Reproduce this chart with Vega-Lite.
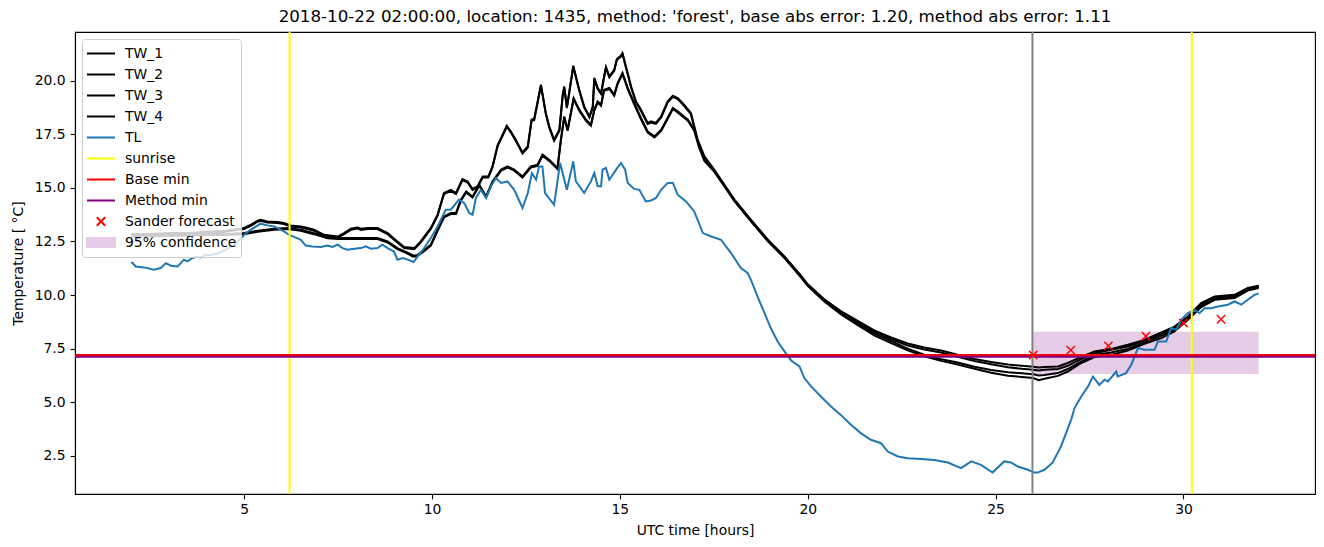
{
  "$schema": "https://vega.github.io/schema/vega-lite/v6.json",
  "autosize": {"type": "none"},
  "width": 1240,
  "height": 462,
  "padding": {"left": 75, "top": 32, "right": 9, "bottom": 53},
  "background": "white",
  "title": {
    "text": "2018-10-22 02:00:00, location: 1435, method: 'forest', base abs error: 1.20, method abs error: 1.11",
    "font": "DejaVu Sans", "fontSize": 16.7, "fontWeight": "normal", "color": "black",
    "anchor": "middle", "offset": 5
  },
  "datasets": {
    "upper": [
      {"t":2.0,"TW_1":12.85,"TW_2":12.8},{"t":2.5,"TW_1":12.85,"TW_2":12.8},{"t":3.0,"TW_1":12.9,"TW_2":12.85},{"t":3.5,"TW_1":12.9,"TW_2":12.85},
      {"t":4.0,"TW_1":12.95,"TW_2":12.9},{"t":4.5,"TW_1":13.0,"TW_2":12.95},{"t":5.0,"TW_1":13.13,"TW_2":13.08},{"t":5.2,"TW_1":13.3,"TW_2":13.25},
      {"t":5.36,"TW_1":13.47,"TW_2":13.42},{"t":5.44,"TW_1":13.51,"TW_2":13.46},{"t":5.62,"TW_1":13.43,"TW_2":13.38},{"t":5.89,"TW_1":13.41,"TW_2":13.36},
      {"t":6.06,"TW_1":13.36,"TW_2":13.31},{"t":6.24,"TW_1":13.25,"TW_2":13.2},{"t":6.51,"TW_1":13.2,"TW_2":13.15},{"t":6.69,"TW_1":13.13,"TW_2":13.08},
      {"t":6.86,"TW_1":13.05,"TW_2":13.0},{"t":7.13,"TW_1":12.81,"TW_2":12.76},{"t":7.49,"TW_1":12.73,"TW_2":12.68},{"t":7.66,"TW_1":12.89,"TW_2":12.84},
      {"t":7.84,"TW_1":13.09,"TW_2":13.04},{"t":8.02,"TW_1":13.15,"TW_2":13.1},{"t":8.11,"TW_1":13.09,"TW_2":13.04},{"t":8.29,"TW_1":13.13,"TW_2":13.08},
      {"t":8.55,"TW_1":13.13,"TW_2":13.08},{"t":8.82,"TW_1":12.89,"TW_2":12.84},{"t":9.08,"TW_1":12.5,"TW_2":12.45},{"t":9.26,"TW_1":12.24,"TW_2":12.19},
      {"t":9.53,"TW_1":12.19,"TW_2":12.14},{"t":9.7,"TW_1":12.5,"TW_2":12.45},{"t":9.97,"TW_1":13.13,"TW_2":13.08},{"t":10.15,"TW_1":13.75,"TW_2":13.7},
      {"t":10.32,"TW_1":14.76,"TW_2":14.71},{"t":10.5,"TW_1":14.91,"TW_2":14.86},{"t":10.64,"TW_1":14.76,"TW_2":14.71},{"t":10.81,"TW_1":15.41,"TW_2":15.36},
      {"t":10.95,"TW_1":15.3,"TW_2":15.25},{"t":11.08,"TW_1":14.95,"TW_2":14.9},{"t":11.21,"TW_1":15.07,"TW_2":15.02},{"t":11.35,"TW_1":15.53,"TW_2":15.48},
      {"t":11.5,"TW_1":15.53,"TW_2":15.48},{"t":11.61,"TW_1":16.0,"TW_2":15.95},{"t":11.75,"TW_1":17.01,"TW_2":16.96},{"t":11.88,"TW_1":17.48,"TW_2":17.43},
      {"t":11.99,"TW_1":17.9,"TW_2":17.85},{"t":12.1,"TW_1":17.63,"TW_2":17.58},{"t":12.23,"TW_1":17.25,"TW_2":17.2},{"t":12.41,"TW_1":16.65,"TW_2":16.6},
      {"t":12.55,"TW_1":16.93,"TW_2":16.88},{"t":12.65,"TW_1":18.18,"TW_2":18.13},{"t":12.72,"TW_1":18.21,"TW_2":18.16},{"t":12.9,"TW_1":19.81,"TW_2":19.76},
      {"t":13.03,"TW_1":18.49,"TW_2":18.44},{"t":13.12,"TW_1":17.87,"TW_2":17.82},{"t":13.25,"TW_1":17.25,"TW_2":17.2},{"t":13.39,"TW_1":17.71,"TW_2":17.66},
      {"t":13.48,"TW_1":19.35,"TW_2":19.3},{"t":13.52,"TW_1":19.73,"TW_2":19.68},{"t":13.59,"TW_1":18.77,"TW_2":18.72},{"t":13.65,"TW_1":19.43,"TW_2":19.38},
      {"t":13.76,"TW_1":20.7,"TW_2":20.65},{"t":13.92,"TW_1":19.58,"TW_2":19.53},{"t":14.05,"TW_1":18.8,"TW_2":18.75},{"t":14.19,"TW_1":18.33,"TW_2":18.28},
      {"t":14.28,"TW_1":18.8,"TW_2":18.75},{"t":14.32,"TW_1":20.13,"TW_2":20.08},{"t":14.41,"TW_1":19.66,"TW_2":19.61},{"t":14.5,"TW_1":19.43,"TW_2":19.38},
      {"t":14.58,"TW_1":20.2,"TW_2":20.15},{"t":14.63,"TW_1":20.64,"TW_2":20.59},{"t":14.72,"TW_1":20.2,"TW_2":20.15},{"t":14.85,"TW_1":20.51,"TW_2":20.46},
      {"t":14.92,"TW_1":21.01,"TW_2":20.96},{"t":15.03,"TW_1":21.17,"TW_2":21.12},{"t":15.07,"TW_1":21.29,"TW_2":21.24},{"t":15.16,"TW_1":20.67,"TW_2":20.62},
      {"t":15.3,"TW_1":19.73,"TW_2":19.68},{"t":15.43,"TW_1":19.03,"TW_2":18.98},{"t":15.56,"TW_1":18.65,"TW_2":18.6},{"t":15.74,"TW_1":18.03,"TW_2":17.98},
      {"t":15.83,"TW_1":18.1,"TW_2":18.05},{"t":15.96,"TW_1":18.03,"TW_2":17.98},{"t":16.1,"TW_1":18.33,"TW_2":18.28},{"t":16.27,"TW_1":19.03,"TW_2":18.98},
      {"t":16.41,"TW_1":19.3,"TW_2":19.25},{"t":16.54,"TW_1":19.19,"TW_2":19.14},{"t":16.71,"TW_1":18.88,"TW_2":18.83},{"t":16.89,"TW_1":18.49,"TW_2":18.44},
      {"t":17.07,"TW_1":17.25,"TW_2":17.2},{"t":17.25,"TW_1":16.47,"TW_2":16.42},{"t":17.51,"TW_1":15.85,"TW_2":15.8},{"t":17.78,"TW_1":15.15,"TW_2":15.1},
      {"t":18.05,"TW_1":14.45,"TW_2":14.4},{"t":18.49,"TW_1":13.51,"TW_2":13.46},{"t":18.94,"TW_1":12.58,"TW_2":12.53},{"t":19.38,"TW_1":11.8,"TW_2":11.75},
      {"t":19.82,"TW_1":10.9,"TW_2":10.85},{"t":20.0,"TW_1":10.5,"TW_2":10.45},{"t":20.44,"TW_1":9.8,"TW_2":9.75},{"t":20.88,"TW_1":9.25,"TW_2":9.2},
      {"t":21.33,"TW_1":8.8,"TW_2":8.74},{"t":21.77,"TW_1":8.35,"TW_2":8.28},{"t":22.22,"TW_1":8.02,"TW_2":7.94},{"t":22.66,"TW_1":7.74,"TW_2":7.65},
      {"t":23.1,"TW_1":7.55,"TW_2":7.46},{"t":23.55,"TW_1":7.41,"TW_2":7.32},{"t":23.99,"TW_1":7.22,"TW_2":7.12},{"t":24.44,"TW_1":7.02,"TW_2":6.92},
      {"t":24.88,"TW_1":6.88,"TW_2":6.77},{"t":25.33,"TW_1":6.76,"TW_2":6.63},{"t":25.7,"TW_1":6.7,"TW_2":6.56},{"t":26.0,"TW_1":6.66,"TW_2":6.52},
      {"t":26.15,"TW_1":6.62,"TW_2":6.48},{"t":26.3,"TW_1":6.64,"TW_2":6.51},{"t":26.66,"TW_1":6.67,"TW_2":6.55},{"t":26.92,"TW_1":6.83,"TW_2":6.7},
      {"t":27.28,"TW_1":7.11,"TW_2":7.01},{"t":27.63,"TW_1":7.37,"TW_2":7.29},{"t":28.08,"TW_1":7.49,"TW_2":7.45},{"t":28.52,"TW_1":7.68,"TW_2":7.6},
      {"t":28.96,"TW_1":7.91,"TW_2":7.87},{"t":29.41,"TW_1":8.26,"TW_2":8.19},{"t":29.76,"TW_1":8.53,"TW_2":8.46},{"t":30.12,"TW_1":9.0,"TW_2":8.95},
      {"t":30.47,"TW_1":9.63,"TW_2":9.55},{"t":30.83,"TW_1":9.93,"TW_2":9.89},{"t":31.36,"TW_1":10.01,"TW_2":9.97},{"t":31.71,"TW_1":10.33,"TW_2":10.28},
      {"t":32.0,"TW_1":10.43,"TW_2":10.4}
    ],
    "lower": [
      {"t":2.0,"TW_3":12.8,"TW_4":12.75},{"t":3.0,"TW_3":12.8,"TW_4":12.75},{"t":4.0,"TW_3":12.85,"TW_4":12.8},{"t":4.5,"TW_3":12.85,"TW_4":12.8},
      {"t":5.0,"TW_3":12.89,"TW_4":12.84},{"t":5.36,"TW_3":13.0,"TW_4":12.95},{"t":5.8,"TW_3":13.09,"TW_4":13.04},{"t":6.15,"TW_3":13.13,"TW_4":13.08},
      {"t":6.51,"TW_3":13.05,"TW_4":13.0},{"t":6.86,"TW_3":12.89,"TW_4":12.84},{"t":7.22,"TW_3":12.7,"TW_4":12.65},{"t":7.5,"TW_3":12.66,"TW_4":12.61},
      {"t":7.84,"TW_3":12.66,"TW_4":12.61},{"t":8.2,"TW_3":12.66,"TW_4":12.61},{"t":8.55,"TW_3":12.66,"TW_4":12.61},{"t":8.82,"TW_3":12.5,"TW_4":12.45},
      {"t":9.08,"TW_3":12.19,"TW_4":12.14},{"t":9.35,"TW_3":11.98,"TW_4":11.93},{"t":9.49,"TW_3":11.85,"TW_4":11.8},{"t":9.6,"TW_3":11.85,"TW_4":11.8},
      {"t":9.79,"TW_3":12.1,"TW_4":12.05},{"t":9.97,"TW_3":12.35,"TW_4":12.3},{"t":10.15,"TW_3":13.05,"TW_4":13.0},{"t":10.32,"TW_3":13.67,"TW_4":13.62},
      {"t":10.5,"TW_3":13.83,"TW_4":13.78},{"t":10.64,"TW_3":13.83,"TW_4":13.78},{"t":10.77,"TW_3":14.45,"TW_4":14.4},{"t":10.91,"TW_3":14.83,"TW_4":14.78},
      {"t":11.08,"TW_3":14.6,"TW_4":14.55},{"t":11.26,"TW_3":15.15,"TW_4":15.1},{"t":11.44,"TW_3":14.6,"TW_4":14.55},{"t":11.61,"TW_3":15.3,"TW_4":15.25},
      {"t":11.84,"TW_3":15.85,"TW_4":15.8},{"t":12.01,"TW_3":16.0,"TW_4":15.95},{"t":12.19,"TW_3":15.85,"TW_4":15.8},{"t":12.41,"TW_3":15.53,"TW_4":15.48},
      {"t":12.63,"TW_3":16.0,"TW_4":15.95},{"t":12.81,"TW_3":16.08,"TW_4":16.03},{"t":12.94,"TW_3":16.55,"TW_4":16.5},{"t":13.12,"TW_3":16.31,"TW_4":16.26},
      {"t":13.34,"TW_3":15.93,"TW_4":15.88},{"t":13.43,"TW_3":17.25,"TW_4":17.2},{"t":13.52,"TW_3":18.33,"TW_4":18.28},{"t":13.61,"TW_3":17.71,"TW_4":17.66},
      {"t":13.77,"TW_3":19.19,"TW_4":19.14},{"t":13.92,"TW_3":18.65,"TW_4":18.6},{"t":14.1,"TW_3":18.18,"TW_4":18.13},{"t":14.23,"TW_3":17.95,"TW_4":17.9},
      {"t":14.32,"TW_3":18.65,"TW_4":18.6},{"t":14.41,"TW_3":19.03,"TW_4":18.98},{"t":14.5,"TW_3":18.88,"TW_4":18.83},{"t":14.58,"TW_3":19.58,"TW_4":19.53},
      {"t":14.72,"TW_3":19.66,"TW_4":19.61},{"t":14.85,"TW_3":19.35,"TW_4":19.3},{"t":14.94,"TW_3":19.89,"TW_4":19.84},{"t":15.07,"TW_3":20.36,"TW_4":20.31},
      {"t":15.21,"TW_3":19.66,"TW_4":19.61},{"t":15.38,"TW_3":18.96,"TW_4":18.91},{"t":15.56,"TW_3":18.26,"TW_4":18.21},{"t":15.74,"TW_3":17.63,"TW_4":17.58},
      {"t":15.92,"TW_3":17.4,"TW_4":17.35},{"t":16.1,"TW_3":17.71,"TW_4":17.66},{"t":16.27,"TW_3":18.26,"TW_4":18.21},{"t":16.41,"TW_3":18.73,"TW_4":18.68},
      {"t":16.54,"TW_3":18.57,"TW_4":18.52},{"t":16.81,"TW_3":18.18,"TW_4":18.13},{"t":16.98,"TW_3":17.71,"TW_4":17.66},{"t":17.11,"TW_3":16.93,"TW_4":16.88},
      {"t":17.25,"TW_3":16.31,"TW_4":16.26},{"t":17.51,"TW_3":15.8,"TW_4":15.76},{"t":17.78,"TW_3":15.12,"TW_4":15.08},{"t":18.05,"TW_3":14.42,"TW_4":14.38},
      {"t":18.49,"TW_3":13.48,"TW_4":13.44},{"t":18.94,"TW_3":12.55,"TW_4":12.51},{"t":19.38,"TW_3":11.78,"TW_4":11.73},{"t":19.82,"TW_3":10.88,"TW_4":10.83},
      {"t":20.0,"TW_3":10.48,"TW_4":10.43},{"t":20.44,"TW_3":9.75,"TW_4":9.7},{"t":20.88,"TW_3":9.17,"TW_4":9.11},{"t":21.33,"TW_3":8.66,"TW_4":8.6},
      {"t":21.77,"TW_3":8.2,"TW_4":8.12},{"t":22.22,"TW_3":7.85,"TW_4":7.76},{"t":22.66,"TW_3":7.5,"TW_4":7.42},{"t":23.1,"TW_3":7.22,"TW_4":7.14},
      {"t":23.55,"TW_3":7.01,"TW_4":6.93},{"t":23.99,"TW_3":6.85,"TW_4":6.76},{"t":24.44,"TW_3":6.66,"TW_4":6.56},{"t":24.88,"TW_3":6.5,"TW_4":6.38},
      {"t":25.33,"TW_3":6.4,"TW_4":6.24},{"t":25.7,"TW_3":6.35,"TW_4":6.18},{"t":26.0,"TW_3":6.31,"TW_4":6.13},{"t":26.15,"TW_3":6.25,"TW_4":6.03},
      {"t":26.3,"TW_3":6.27,"TW_4":6.1},{"t":26.66,"TW_3":6.36,"TW_4":6.23},{"t":26.92,"TW_3":6.55,"TW_4":6.43},{"t":27.28,"TW_3":6.9,"TW_4":6.83},
      {"t":27.63,"TW_3":7.21,"TW_4":7.11},{"t":28.08,"TW_3":7.32,"TW_4":7.21},{"t":28.52,"TW_3":7.49,"TW_4":7.41},{"t":28.96,"TW_3":7.79,"TW_4":7.73},
      {"t":29.41,"TW_3":8.1,"TW_4":7.99},{"t":29.76,"TW_3":8.38,"TW_4":8.3},{"t":30.12,"TW_3":8.89,"TW_4":8.85},{"t":30.47,"TW_3":9.47,"TW_4":9.44},
      {"t":30.83,"TW_3":9.83,"TW_4":9.78},{"t":31.36,"TW_3":9.91,"TW_4":9.86},{"t":31.71,"TW_3":10.25,"TW_4":10.21},{"t":32.0,"TW_3":10.37,"TW_4":10.33}
    ],
    "tl": [
      {"t":2.0,"TL":11.54},{"t":2.12,"TL":11.33},{"t":2.34,"TL":11.29},{"t":2.6,"TL":11.18},{"t":2.78,"TL":11.26},{"t":2.92,"TL":11.49},{"t":3.05,"TL":11.37},
      {"t":3.23,"TL":11.33},{"t":3.4,"TL":11.65},{"t":3.49,"TL":11.57},{"t":3.63,"TL":11.73},{"t":3.76,"TL":11.8},{"t":3.85,"TL":11.75},{"t":3.98,"TL":11.88},
      {"t":4.07,"TL":11.85},{"t":4.2,"TL":11.91},{"t":4.29,"TL":11.93},{"t":4.51,"TL":12.11},{"t":4.78,"TL":12.39},{"t":5.0,"TL":12.81},{"t":5.18,"TL":13.05},
      {"t":5.44,"TL":13.33},{"t":5.62,"TL":13.25},{"t":5.8,"TL":13.2},{"t":5.93,"TL":13.09},{"t":6.06,"TL":12.97},{"t":6.2,"TL":12.81},{"t":6.33,"TL":12.71},
      {"t":6.51,"TL":12.58},{"t":6.64,"TL":12.31},{"t":6.82,"TL":12.27},{"t":7.04,"TL":12.24},{"t":7.22,"TL":12.31},{"t":7.35,"TL":12.24},{"t":7.49,"TL":12.35},
      {"t":7.62,"TL":12.19},{"t":7.75,"TL":12.11},{"t":7.93,"TL":12.16},{"t":8.11,"TL":12.19},{"t":8.24,"TL":12.27},{"t":8.37,"TL":12.16},{"t":8.55,"TL":12.19},
      {"t":8.68,"TL":12.35},{"t":8.82,"TL":12.19},{"t":8.99,"TL":12.03},{"t":9.08,"TL":11.65},{"t":9.22,"TL":11.73},{"t":9.35,"TL":11.65},{"t":9.51,"TL":11.54},
      {"t":9.62,"TL":11.8},{"t":9.79,"TL":12.19},{"t":9.97,"TL":12.66},{"t":10.15,"TL":13.2},{"t":10.28,"TL":13.67},{"t":10.37,"TL":13.98},{"t":10.5,"TL":13.98},
      {"t":10.72,"TL":14.45},{"t":10.86,"TL":14.29},{"t":10.99,"TL":13.83},{"t":11.08,"TL":13.75},{"t":11.17,"TL":14.53},{"t":11.3,"TL":14.91},{"t":11.44,"TL":14.53},
      {"t":11.57,"TL":15.07},{"t":11.7,"TL":15.46},{"t":11.84,"TL":15.23},{"t":12.01,"TL":15.3},{"t":12.19,"TL":14.91},{"t":12.41,"TL":14.06},{"t":12.55,"TL":14.76},
      {"t":12.66,"TL":15.69},{"t":12.77,"TL":15.38},{"t":12.85,"TL":16.0},{"t":12.94,"TL":16.0},{"t":13.01,"TL":14.76},{"t":13.25,"TL":14.21},{"t":13.41,"TL":16.16},
      {"t":13.59,"TL":14.91},{"t":13.76,"TL":16.23},{"t":13.83,"TL":15.3},{"t":14.05,"TL":14.76},{"t":14.23,"TL":15.3},{"t":14.32,"TL":15.69},{"t":14.41,"TL":15.07},
      {"t":14.5,"TL":15.07},{"t":14.54,"TL":15.85},{"t":14.63,"TL":15.93},{"t":14.72,"TL":15.38},{"t":14.9,"TL":15.85},{"t":15.03,"TL":16.16},{"t":15.14,"TL":15.85},
      {"t":15.21,"TL":15.23},{"t":15.38,"TL":14.95},{"t":15.52,"TL":14.91},{"t":15.69,"TL":14.37},{"t":15.83,"TL":14.41},{"t":15.96,"TL":14.53},{"t":16.1,"TL":14.91},
      {"t":16.27,"TL":15.23},{"t":16.41,"TL":15.23},{"t":16.54,"TL":14.68},{"t":16.76,"TL":14.37},{"t":16.98,"TL":13.9},{"t":17.21,"TL":12.89},{"t":17.43,"TL":12.73},
      {"t":17.69,"TL":12.58},{"t":17.96,"TL":11.96},{"t":18.22,"TL":11.26},{"t":18.4,"TL":11.03},{"t":18.49,"TL":10.71},{"t":18.67,"TL":9.9},{"t":18.84,"TL":9.2},
      {"t":19.02,"TL":8.45},{"t":19.2,"TL":7.83},{"t":19.38,"TL":7.37},{"t":19.56,"TL":6.95},{"t":19.78,"TL":6.67},{"t":19.91,"TL":6.13},{"t":20.09,"TL":5.74},
      {"t":20.35,"TL":5.27},{"t":20.62,"TL":4.8},{"t":20.88,"TL":4.41},{"t":21.15,"TL":3.95},{"t":21.41,"TL":3.56},{"t":21.68,"TL":3.25},{"t":21.95,"TL":3.09},
      {"t":22.13,"TL":2.7},{"t":22.4,"TL":2.47},{"t":22.66,"TL":2.39},{"t":23.02,"TL":2.35},{"t":23.37,"TL":2.31},{"t":23.73,"TL":2.19},{"t":24.08,"TL":1.93},
      {"t":24.35,"TL":2.24},{"t":24.61,"TL":2.08},{"t":24.92,"TL":1.72},{"t":25.23,"TL":2.24},{"t":25.41,"TL":2.19},{"t":25.59,"TL":2.0},{"t":25.86,"TL":1.85},
      {"t":26.03,"TL":1.72},{"t":26.12,"TL":1.72},{"t":26.3,"TL":1.85},{"t":26.52,"TL":2.19},{"t":26.74,"TL":2.94},{"t":27.01,"TL":4.18},{"t":27.1,"TL":4.73},
      {"t":27.28,"TL":5.27},{"t":27.46,"TL":5.74},{"t":27.59,"TL":6.2},{"t":27.76,"TL":5.81},{"t":27.9,"TL":6.05},{"t":27.99,"TL":5.97},{"t":28.21,"TL":6.43},
      {"t":28.25,"TL":6.2},{"t":28.47,"TL":6.36},{"t":28.61,"TL":6.75},{"t":28.79,"TL":7.53},{"t":28.96,"TL":7.45},{"t":29.23,"TL":7.45},{"t":29.32,"TL":7.83},
      {"t":29.54,"TL":7.83},{"t":29.67,"TL":8.46},{"t":29.81,"TL":8.38},{"t":29.94,"TL":8.85},{"t":30.12,"TL":9.16},{"t":30.29,"TL":9.31},{"t":30.43,"TL":9.16},
      {"t":30.56,"TL":9.39},{"t":30.74,"TL":9.39},{"t":30.92,"TL":9.47},{"t":31.18,"TL":9.55},{"t":31.36,"TL":9.7},{"t":31.54,"TL":9.55},{"t":31.71,"TL":9.78},
      {"t":31.89,"TL":10.01},{"t":32.0,"TL":10.08}
    ],
    "sander": [
      {"t":26,"Sander forecast":7.2},{"t":27,"Sander forecast":7.43},{"t":28,"Sander forecast":7.63},
      {"t":29,"Sander forecast":8.08},{"t":30,"Sander forecast":8.7},{"t":31,"Sander forecast":8.87}
    ]
  },
  "layer": [
    {
      "data": {"values": [{"series": "95% confidence", "t": 26, "t2": 32, "v": 6.32, "v2": 8.29}]},
      "mark": {"type": "rect"},
      "encoding": {
        "x": {"field": "t", "type": "quantitative", "scale": {"domain": [0.5, 33.5], "nice": false, "zero": false}},
        "x2": {"field": "t2"},
        "y": {"field": "v", "type": "quantitative", "scale": {"domain": [0.72, 22.27], "nice": false, "zero": false}},
        "y2": {"field": "v2"},
        "color": {"field": "series", "type": "nominal"}
      }
    },
    {
      "data": {"name": "upper"},
      "transform": [{"fold": ["TW_1", "TW_2"], "as": ["series", "v"]}],
      "mark": {"type": "line", "strokeWidth": 2},
      "encoding": {
        "x": {"field": "t", "type": "quantitative", "scale": {"domain": [0.5, 33.5], "nice": false, "zero": false},
          "axis": {"values": [5, 10, 15, 20, 25, 30], "format": "d", "title": "UTC time [hours]"}},
        "y": {"field": "v", "type": "quantitative", "scale": {"domain": [0.72, 22.27], "nice": false, "zero": false},
          "axis": {"values": [2.5, 5, 7.5, 10, 12.5, 15, 17.5, 20], "format": ".1f", "title": "Temperature [ °C]"}},
        "color": {
          "field": "series", "type": "nominal",
          "scale": {
            "domain": ["TW_1", "TW_2", "TW_3", "TW_4", "TL", "sunrise", "Base min", "Method min", "Sander forecast", "95% confidence"],
            "range": ["#000000", "#000000", "#000000", "#000000", "#1f77b4", "#ffff00", "#ff0000", "#800080", "#ff0000", "#e6cce6"]
          },
          "legend": {
            "title": null,
            "orient": "none",
            "legendX": 7,
            "legendY": 7,
            "direction": "vertical",
            "symbolType": "stroke",
            "symbolSize": 784,
            "symbolStrokeWidth": 2,
            "labelFont": "DejaVu Sans",
            "labelFontSize": 13.9,
            "labelColor": "black",
            "labelOffset": 9,
            "labelLimit": 300,
            "padding": 4,
            "rowPadding": 0,
            "clipHeight": 21,
            "fillColor": "rgba(255,255,255,0.8)",
            "strokeColor": "#cccccc",
            "cornerRadius": 3,
            "encode": {
              "symbols": {
                "update": {
                  "size": {"value": 784},
                  "shape": {"signal": "datum.value === 'Sander forecast' ? 'M-0.3,-0.3L0.3,0.3M-0.3,0.3L0.3,-0.3' : (datum.value === '95% confidence' ? 'M-1,-0.32H1V0.32H-1Z' : 'stroke')"},
                  "fill": {"signal": "datum.value === '95% confidence' ? '#e6cce6' : 'transparent'"},
                  "stroke": {"signal": "datum.value === '95% confidence' ? 'transparent' : scale('color', datum.value)"},
                  "strokeWidth": {"value": 2},
                  "opacity": {"value": 1}
                }
              }
            }
          }
        }
      }
    },
    {
      "data": {"name": "lower"},
      "transform": [{"fold": ["TW_3", "TW_4"], "as": ["series", "v"]}],
      "mark": {"type": "line", "strokeWidth": 2},
      "encoding": {
        "x": {"field": "t", "type": "quantitative", "scale": {"domain": [0.5, 33.5], "nice": false, "zero": false}},
        "y": {"field": "v", "type": "quantitative", "scale": {"domain": [0.72, 22.27], "nice": false, "zero": false}},
        "color": {"field": "series", "type": "nominal"}
      }
    },
    {
      "data": {"name": "tl"},
      "transform": [{"fold": ["TL"], "as": ["series", "v"]}],
      "mark": {"type": "line", "strokeWidth": 2},
      "encoding": {
        "x": {"field": "t", "type": "quantitative", "scale": {"domain": [0.5, 33.5], "nice": false, "zero": false}},
        "y": {"field": "v", "type": "quantitative", "scale": {"domain": [0.72, 22.27], "nice": false, "zero": false}},
        "color": {"field": "series", "type": "nominal"}
      }
    },
    {
      "data": {"values": [{"series": "sunrise", "t": 6.21}, {"series": "sunrise", "t": 30.22}]},
      "mark": {"type": "rule", "strokeWidth": 2},
      "encoding": {
        "x": {"field": "t", "type": "quantitative", "scale": {"domain": [0.5, 33.5], "nice": false, "zero": false}},
        "color": {"field": "series", "type": "nominal"}
      }
    },
    {
      "data": {"values": [{"series": "Base min", "v": 7.2}, {"series": "Method min", "v": 7.12}]},
      "mark": {"type": "rule", "strokeWidth": 2},
      "encoding": {
        "y": {"field": "v", "type": "quantitative", "scale": {"domain": [0.72, 22.27], "nice": false, "zero": false}},
        "color": {"field": "series", "type": "nominal"}
      }
    },
    {
      "data": {"values": [{"t": 25.98}]},
      "mark": {"type": "rule", "strokeWidth": 2, "color": "#808080"},
      "encoding": {
        "x": {"field": "t", "type": "quantitative", "scale": {"domain": [0.5, 33.5], "nice": false, "zero": false}}
      }
    },
    {
      "data": {"name": "sander"},
      "transform": [{"fold": ["Sander forecast"], "as": ["series", "v"]}],
      "mark": {"type": "point", "shape": "M-1,-1L1,1M-1,1L1,-1", "size": 70, "strokeWidth": 1.5, "filled": false, "opacity": 1},
      "encoding": {
        "x": {"field": "t", "type": "quantitative", "scale": {"domain": [0.5, 33.5], "nice": false, "zero": false}},
        "y": {"field": "v", "type": "quantitative", "scale": {"domain": [0.72, 22.27], "nice": false, "zero": false}},
        "color": {"field": "series", "type": "nominal"}
      }
    }
  ],
  "config": {
    "view": {"stroke": "black", "strokeWidth": 1.1},
    "axis": {
      "grid": false,
      "domainColor": "black",
      "domainWidth": 1.1,
      "tickColor": "black",
      "tickWidth": 1.1,
      "tickSize": 4.9,
      "labelColor": "black",
      "labelFont": "DejaVu Sans",
      "labelFontSize": 13.9,
      "labelPadding": 3.5,
      "titleColor": "black",
      "titleFont": "DejaVu Sans",
      "titleFontSize": 13.9,
      "titleFontWeight": "normal",
      "labelFlush": false
    },
    "axisX": {"titlePadding": 7},
    "axisY": {"titlePadding": 9, "labelPadding": 5}
  }
}
